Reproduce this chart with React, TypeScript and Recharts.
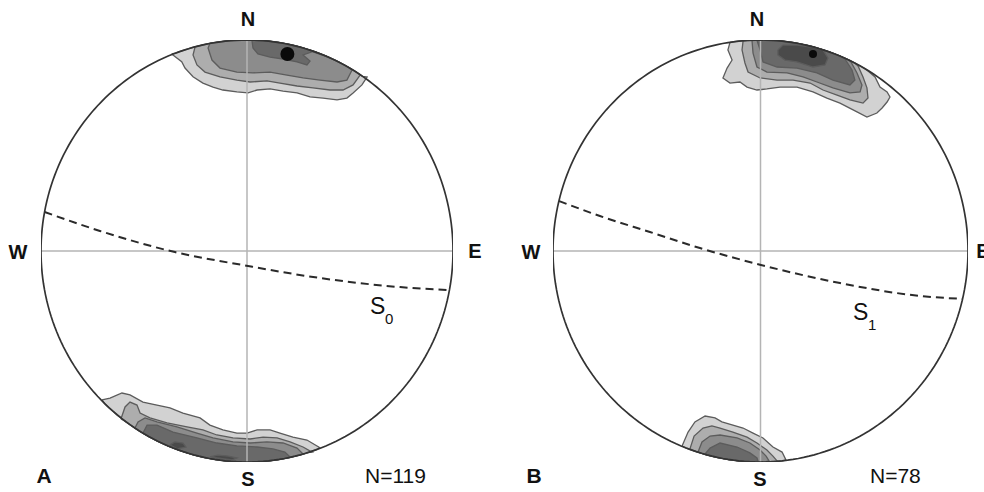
import { ScatterChart, Scatter, XAxis, YAxis } from 'recharts'

type Pt = [number, number]

// contour outlines in net units (unit circle)
const leftTop1: Pt[] = [[-0.366, 0.934], [-0.317, 0.897], [-0.301, 0.867], [-0.262, 0.826], [-0.214, 0.796], [-0.165, 0.777], [-0.117, 0.763], [-0.049, 0.754], [0.005, 0.749], [0.049, 0.763], [0.112, 0.768], [0.175, 0.758], [0.243, 0.749], [0.306, 0.73], [0.369, 0.725], [0.437, 0.716], [0.485, 0.725], [0.515, 0.749], [0.558, 0.787], [0.583, 0.825]]
const leftTop2: Pt[] = [[-0.252, 0.967], [-0.262, 0.929], [-0.243, 0.882], [-0.204, 0.848], [-0.131, 0.825], [-0.049, 0.81], [0.015, 0.801], [0.097, 0.806], [0.16, 0.796], [0.243, 0.782], [0.32, 0.773], [0.403, 0.763], [0.466, 0.763], [0.515, 0.787], [0.549, 0.834]]
const leftTop3: Pt[] = [[-0.18, 0.984], [-0.189, 0.962], [-0.17, 0.905], [-0.131, 0.867], [-0.049, 0.848], [0.029, 0.844], [0.112, 0.848], [0.194, 0.834], [0.272, 0.82], [0.354, 0.81], [0.437, 0.801], [0.485, 0.81], [0.51, 0.858]]
const leftTop4: Pt[] = [[0.024, 0.999], [0.029, 0.962], [0.053, 0.934], [0.112, 0.919], [0.175, 0.91], [0.243, 0.896], [0.291, 0.882], [0.306, 0.9], [0.272, 0.929], [0.318, 0.945], [0.403, 0.915]]
const leftTopMax: Pt[] = [[0.196, 0.934]]

const leftBot1: Pt[] = [[-0.704, -0.706], [-0.665, -0.697], [-0.607, -0.673], [-0.568, -0.682], [-0.505, -0.716], [-0.437, -0.73], [-0.374, -0.744], [-0.311, -0.768], [-0.228, -0.791], [-0.18, -0.825], [-0.117, -0.848], [-0.049, -0.863], [0.0, -0.863], [0.049, -0.848], [0.112, -0.848], [0.16, -0.863], [0.223, -0.882], [0.291, -0.896], [0.354, -0.932]]
const leftBot2: Pt[] = [[-0.612, -0.796], [-0.592, -0.739], [-0.568, -0.716], [-0.534, -0.73], [-0.519, -0.768], [-0.471, -0.791], [-0.388, -0.815], [-0.291, -0.834], [-0.214, -0.848], [-0.146, -0.872], [-0.068, -0.886], [0.015, -0.891], [0.078, -0.882], [0.146, -0.886], [0.209, -0.905], [0.272, -0.929], [0.316, -0.953]]
const leftBot3: Pt[] = [[-0.544, -0.839], [-0.529, -0.81], [-0.495, -0.791], [-0.437, -0.81], [-0.34, -0.834], [-0.243, -0.863], [-0.165, -0.886], [-0.068, -0.905], [0.015, -0.91], [0.097, -0.905], [0.175, -0.91], [0.243, -0.934], [0.272, -0.962]]
const leftBot4: Pt[] = [[-0.505, -0.863], [-0.485, -0.825], [-0.437, -0.825], [-0.359, -0.858], [-0.243, -0.886], [-0.146, -0.91], [-0.049, -0.924], [0.049, -0.929], [0.126, -0.938], [0.184, -0.953], [0.209, -0.976]]
const leftBotCoreA: Pt[] = [[-0.374, -0.919], [-0.35, -0.905], [-0.311, -0.91], [-0.296, -0.929], [-0.34, -0.938]]
const leftBotCoreB: Pt[] = [[-0.18, -0.976], [-0.141, -0.967], [-0.092, -0.972], [-0.049, -0.981], [-0.073, -0.99]]

const rightTop1: Pt[] = [[-0.147, 0.989], [-0.157, 0.953], [-0.137, 0.905], [-0.161, 0.867], [-0.181, 0.82], [-0.147, 0.796], [-0.099, 0.801], [-0.065, 0.777], [-0.017, 0.763], [0.031, 0.768], [0.094, 0.777], [0.176, 0.777], [0.253, 0.754], [0.32, 0.725], [0.383, 0.701], [0.465, 0.659], [0.513, 0.635], [0.561, 0.654], [0.586, 0.678], [0.61, 0.706], [0.624, 0.73], [0.61, 0.754], [0.576, 0.777], [0.552, 0.825], [0.518, 0.853]]
const rightTop2: Pt[] = [[-0.084, 0.995], [-0.089, 0.953], [-0.075, 0.891], [-0.06, 0.848], [-0.002, 0.82], [0.08, 0.81], [0.157, 0.81], [0.239, 0.796], [0.301, 0.763], [0.369, 0.739], [0.431, 0.716], [0.494, 0.701], [0.518, 0.725], [0.513, 0.773], [0.494, 0.825], [0.47, 0.877]]
const rightTop3: Pt[] = [[-0.041, 0.999], [-0.036, 0.938], [-0.017, 0.872], [0.031, 0.848], [0.128, 0.844], [0.205, 0.825], [0.272, 0.801], [0.349, 0.773], [0.431, 0.749], [0.48, 0.754], [0.489, 0.787], [0.465, 0.844], [0.436, 0.896]]
const rightTop4: Pt[] = [[-0.017, 0.999], [-0.002, 0.953], [0.012, 0.896], [0.08, 0.872], [0.176, 0.867], [0.272, 0.844], [0.349, 0.81], [0.431, 0.787], [0.455, 0.81], [0.441, 0.858], [0.407, 0.91]]
const rightTop5: Pt[] = [[0.084, 0.953], [0.108, 0.976], [0.176, 0.976], [0.253, 0.965], [0.301, 0.953], [0.325, 0.915], [0.311, 0.882], [0.253, 0.872], [0.176, 0.896], [0.118, 0.905], [0.084, 0.929]]
const rightTopMax: Pt[] = [[0.253, 0.934]]

const rightBot1: Pt[] = [[-0.378, -0.924], [-0.349, -0.858], [-0.316, -0.81], [-0.267, -0.782], [-0.219, -0.791], [-0.186, -0.81], [-0.133, -0.825], [-0.084, -0.839], [-0.036, -0.863], [0.012, -0.886], [0.06, -0.929], [0.104, -0.953], [0.123, -0.991]]
const rightBot2: Pt[] = [[-0.34, -0.938], [-0.32, -0.877], [-0.277, -0.839], [-0.234, -0.829], [-0.195, -0.839], [-0.133, -0.858], [-0.065, -0.882], [-0.017, -0.91], [0.031, -0.943], [0.06, -0.972], [0.08, -0.995]]
const rightBot3: Pt[] = [[-0.301, -0.953], [-0.282, -0.905], [-0.243, -0.877], [-0.195, -0.872], [-0.113, -0.886], [-0.051, -0.91], [-0.002, -0.943], [0.027, -0.972], [0.041, -0.995]]
const rightBot4: Pt[] = [[-0.267, -0.962], [-0.243, -0.934], [-0.195, -0.91], [-0.113, -0.929], [-0.051, -0.957], [-0.017, -0.981], [-0.012, -0.995]]

// bedding / cleavage great circles
const planeS0: Pt[] = [[-0.983, 0.185], [-0.714, 0.095], [-0.35, -0.005], [0.005, -0.071], [0.354, -0.128], [0.743, -0.171], [0.983, -0.185]]
const planeS1: Pt[] = [[-0.971, 0.237], [-0.774, 0.166], [-0.533, 0.09], [-0.292, 0.014], [0.002, -0.066], [0.383, -0.152], [0.769, -0.213], [0.974, -0.227]]

const levelFill = ['#d2d2d2', '#adadad', '#8c8c8c', '#696969', '#4a4a4a']

interface Contour {
  pts: Pt[]
  level: number
  rim: boolean
}

const leftContours: Contour[] = [
  { pts: leftTop1, level: 0, rim: true },
  { pts: leftTop2, level: 1, rim: true },
  { pts: leftTop3, level: 2, rim: true },
  { pts: leftTop4, level: 3, rim: true },
  { pts: leftBot1, level: 0, rim: true },
  { pts: leftBot2, level: 1, rim: true },
  { pts: leftBot3, level: 2, rim: true },
  { pts: leftBot4, level: 3, rim: true },
  { pts: leftBotCoreA, level: 4, rim: false },
  { pts: leftBotCoreB, level: 4, rim: false },
]

const rightContours: Contour[] = [
  { pts: rightTop1, level: 0, rim: true },
  { pts: rightTop2, level: 1, rim: true },
  { pts: rightTop3, level: 2, rim: true },
  { pts: rightTop4, level: 3, rim: true },
  { pts: rightTop5, level: 4, rim: false },
  { pts: rightBot1, level: 0, rim: true },
  { pts: rightBot2, level: 1, rim: true },
  { pts: rightBot3, level: 2, rim: true },
  { pts: rightBot4, level: 3, rim: true },
]

// primitive circle of the net
const rimOutline: Pt[] = Array.from({ length: 241 }, (_, i) => {
  const a = (i / 240) * Math.PI * 2
  return [Math.cos(a), Math.sin(a)] as Pt
})
const ewLine: Pt[] = [[-1, 0], [1, 0]]
const nsLine: Pt[] = [[0, -1], [0, 1]]

const toXY = (pts: Pt[]) => pts.map(([x, y]) => ({ x, y }))

// close a contour that runs into the rim by following the rim back to its start
function closeOnRim(pts: Pt[]): Pt[] {
  const first = pts[0]
  const last = pts[pts.length - 1]
  const a1 = Math.atan2(last[1], last[0])
  let d = Math.atan2(first[1], first[0]) - a1
  while (d > Math.PI) d -= 2 * Math.PI
  while (d < -Math.PI) d += 2 * Math.PI
  const steps = Math.max(2, Math.ceil(Math.abs(d) / 0.02))
  const arc: Pt[] = []
  for (let i = 1; i < steps; i++) {
    const a = a1 + (d * i) / steps
    arc.push([Math.cos(a), Math.sin(a)])
  }
  return [...pts, ...arc, first]
}

const noDot = () => <g />

interface NetProps {
  margin: { top: number; right: number; bottom: number; left: number }
  contours: Contour[]
  maxima: Pt[]
  maxR: number
  plane: Pt[]
}

function Net({ margin, contours, maxima, maxR, plane }: NetProps) {
  return (
    <ScatterChart width={492} height={492} margin={margin}>
      <XAxis type="number" dataKey="x" domain={[-1, 1]} allowDataOverflow hide />
      <YAxis type="number" dataKey="y" domain={[-1, 1]} allowDataOverflow hide />
      {contours.map((c, i) => (
        <Scatter
          key={i}
          data={toXY(c.rim ? closeOnRim(c.pts) : [...c.pts, c.pts[0]])}
          shape={noDot}
          line={{ fill: levelFill[c.level], stroke: '#5c5c5c', strokeWidth: 1.3 }}
          isAnimationActive={false}
        />
      ))}
      <Scatter
        data={toXY(maxima)}
        shape={(p: any) => <circle cx={p.cx} cy={p.cy} r={maxR} fill="#0a0a0a" />}
        isAnimationActive={false}
      />
      <Scatter data={toXY(ewLine)} shape={noDot} line={{ stroke: '#b4b4b4', strokeWidth: 1.5 }} isAnimationActive={false} />
      <Scatter data={toXY(nsLine)} shape={noDot} line={{ stroke: '#b4b4b4', strokeWidth: 1.5 }} isAnimationActive={false} />
      <Scatter
        data={toXY(plane)}
        shape={noDot}
        line={{ stroke: '#2a2a2a', strokeWidth: 2, strokeDasharray: '8 5', fill: 'none' }}
        lineJointType="monotoneX"
        isAnimationActive={false}
      />
      <Scatter
        data={toXY(rimOutline)}
        shape={noDot}
        line={{ stroke: '#333', strokeWidth: 1.7, fill: 'none' }}
        isAnimationActive={false}
      />
    </ScatterChart>
  )
}

const font = '"Liberation Sans", Arial, sans-serif'

export default function App() {
  return (
    <div style={{ position: 'absolute', left: 0, top: 0, width: 984, height: 492, background: '#fff', overflow: 'hidden' }}>
      <div style={{ position: 'absolute', left: 0, top: 0 }}>
        <Net
          margin={{ top: 40, right: 39, bottom: 30, left: 41 }}
          contours={leftContours}
          maxima={leftTopMax}
          maxR={7}
          plane={planeS0}
        />
      </div>
      <div style={{ position: 'absolute', left: 492, top: 0 }}>
        <Net
          margin={{ top: 40, right: 16, bottom: 30, left: 61 }}
          contours={rightContours}
          maxima={rightTopMax}
          maxR={4}
          plane={planeS1}
        />
      </div>
      <svg width={984} height={492} style={{ position: 'absolute', left: 0, top: 0, pointerEvents: 'none' }}>
        <g fontFamily={font} fontSize={20} fill="#111" fontWeight={700} textAnchor="middle">
          <text x={248} y={26}>N</text>
          <text x={248} y={486}>S</text>
          <text x={18} y={259}>W</text>
          <text x={475} y={258}>E</text>
          <text x={757} y={26}>N</text>
          <text x={760} y={486}>S</text>
          <text x={531} y={259}>W</text>
          <text x={983} y={258}>E</text>
        </g>
        <g fontFamily={font} fontSize={21} fill="#111">
          <text x={44} y={483} textAnchor="middle" fontWeight={700}>A</text>
          <text x={534} y={483} textAnchor="middle" fontWeight={700}>B</text>
          <text x={365} y={483}>N=119</text>
          <text x={870} y={483}>N=78</text>
          <text x={370} y={314} fontSize={23}>S</text>
          <text x={385} y={324} fontSize={15}>0</text>
          <text x={853} y={320} fontSize={23}>S</text>
          <text x={868} y={330} fontSize={15}>1</text>
        </g>
      </svg>
    </div>
  )
}
